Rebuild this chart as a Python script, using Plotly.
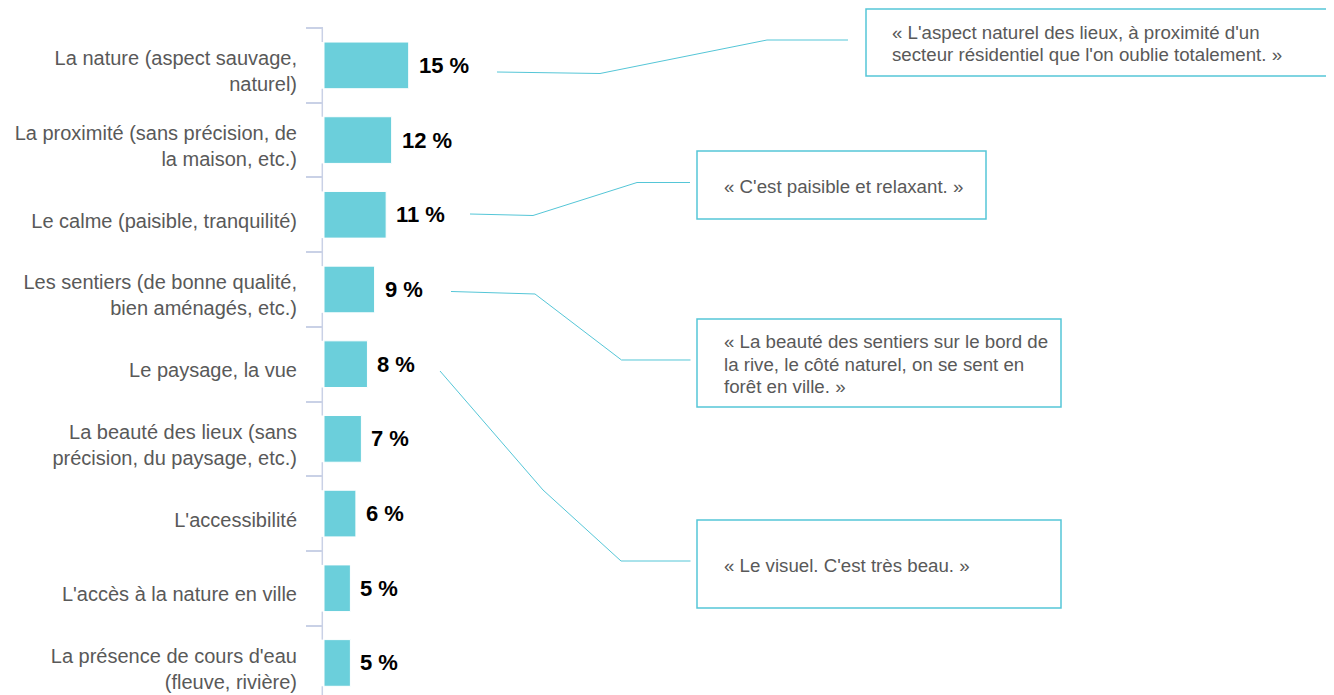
import plotly.graph_objects as go

# ---------------- data ----------------
categories = [
    "La nature (aspect sauvage,<br>naturel)",
    "La proximité (sans précision, de<br>la maison, etc.)",
    "Le calme (paisible, tranquilité)",
    "Les sentiers (de bonne qualité,<br>bien aménagés, etc.)",
    "Le paysage, la vue",
    "La beauté des lieux (sans<br>précision, du paysage, etc.)",
    "L'accessibilité",
    "L'accès à la nature en ville",
    "La présence de cours d'eau<br>(fleuve, rivière)",
]
values = [15.4, 12.3, 11.3, 9.2, 7.9, 6.8, 5.8, 4.8, 4.8]
value_labels = [f"{round(v)}\u00a0%" for v in values]

quotes = [
    "« L'aspect naturel des lieux, à proximité d'un<br>secteur résidentiel que l'on oublie totalement. »",
    "« C'est paisible et relaxant. »",
    "« La beauté des sentiers sur le bord de<br>la rive, le côté naturel, on se sent en<br>forêt en ville. »",
    "« Le visuel. C'est très beau. »",
]

# ---------------- layout helpers ----------------
W, H = 1334, 695
OFF = 8                      # page body margin
ML, MT, MR, MB = 316, 20, 0, 0
PW, PH = W - ML - MR, H - MT - MB
BAR_GAP = 0.375
STEP = 74.7                  # px per category


def px(x):  # screen px -> paper
    return (x - OFF - ML) / PW


def py(y):
    return (H - MB - (y - OFF)) / PH


BAR = "#6BCFDB"
LINE = "#55C6D7"
AXIS = "#C9D1E6"
GREY = "#595959"
FONT = "Liberation Sans, Arial, sans-serif"

fig = go.Figure()
fig.add_trace(go.Bar(
    x=values, y=categories, orientation="h",
    marker=dict(color=BAR, line=dict(color="white", width=1)),
    hoverinfo="skip", showlegend=False,
))

# value labels
for c, v, t in zip(categories, values, value_labels):
    fig.add_annotation(x=v, y=c, xref="x", yref="y", text=f"<b>{t}</b>",
                       showarrow=False, xanchor="left", yanchor="middle",
                       xshift=8, font=dict(family=FONT, size=22, color="black"))

# axis line, interrupted by the bars
half = (1 - BAR_GAP) / 2
n = len(categories)
ybot = -0.5 + PH / STEP
seg_edges = [(-0.5, -half)] + [(i + half, i + 1 - half) for i in range(n - 1)] + [(n - 1 + half, ybot)]
for a, b in seg_edges:
    fig.add_shape(type="line", xref="paper", yref="y", x0=px(322.3), x1=px(322.3),
                  y0=a, y1=b, line=dict(color=AXIS, width=1.5), layer="below")

# callout boxes (screen pixel positions converted to paper)
boxes = [  # x0, y0, x1, y1, text-left
    (866, 9, 1333, 76, 890),
    (697, 151, 986, 219, 722),
    (697, 319, 1061, 407, 722),
    (697, 520, 1061, 608, 722),
]
connectors = [
    [(497, 72), (600, 73.5), (767, 40), (848, 40)],
    [(470, 214), (533, 215.5), (637, 182.5), (690, 182.5)],
    [(451, 291.5), (535, 294), (621.5, 360), (690.5, 360)],
    [(440, 371), (543, 490), (621, 561), (690.5, 561)],
]
LINE_H = 22.5

for (x0, y0, x1, y1, tx), q in zip(boxes, quotes):
    fig.add_shape(type="rect", xref="paper", yref="paper",
                  x0=px(x0), x1=px(x1), y0=py(y1), y1=py(y0),
                  line=dict(color=LINE, width=1.5), fillcolor="white", layer="above")
    lines = q.split("<br>")
    yc = (y0 + y1) / 2 + 1
    for k, ln in enumerate(lines):
        yy = yc + (k - (len(lines) - 1) / 2) * LINE_H
        fig.add_annotation(x=px(tx), y=py(yy), xref="paper", yref="paper",
                           text=ln, showarrow=False, xanchor="left", yanchor="middle",
                           align="left", font=dict(family=FONT, size=18.7, color=GREY))

for pts in connectors:
    path = "M " + " L ".join(f"{px(x):.5f},{py(y):.5f}" for x, y in pts)
    fig.add_shape(type="path", xref="paper", yref="paper", path=path,
                  line=dict(color=LINE, width=1))

fig.update_layout(
    width=W, height=H,
    margin=dict(l=ML, r=MR, t=MT, b=MB, pad=0),
    paper_bgcolor="white", plot_bgcolor="white",
    bargap=BAR_GAP,
    font=dict(family=FONT, color=GREY),
    xaxis=dict(visible=False, range=[0, PW / 5.5], fixedrange=True),
    yaxis=dict(
        categoryorder="array", categoryarray=categories,
        range=[ybot, -0.5005],
        showline=False,
        ticks="outside", tickson="boundaries", ticklen=17,
        tickcolor=AXIS, tickwidth=1.5,
        showgrid=False, zeroline=False,
        tickfont=dict(family=FONT, size=20, color=GREY),
        layer="below traces", automargin=False,
        ticklabelstandoff=26, ticklabelshift=-6,
    ),
)

fig.write_html("out.html")
